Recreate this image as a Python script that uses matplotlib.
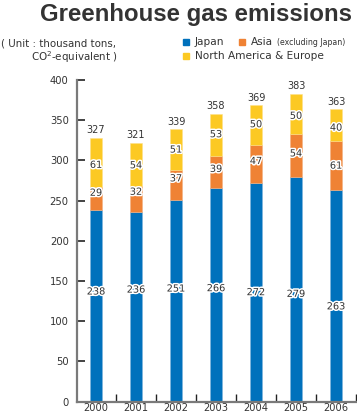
import matplotlib
matplotlib.use("Agg")
import matplotlib.pyplot as plt
import matplotlib.patheffects as pe
from matplotlib.patches import Rectangle
import numpy as np

years = ["2000", "2001", "2002", "2003", "2004", "2005", "2006"]
japan = [238, 236, 251, 266, 272, 279, 263]
asia = [29, 32, 37, 39, 47, 54, 61]
na_eu = [61, 54, 51, 53, 50, 50, 40]
totals = [327, 321, 339, 358, 369, 383, 363]
yticks = [0, 50, 100, 150, 200, 250, 300, 350, 400]

C_JP = "#0071bc"
C_AS = "#ef8234"
C_NA = "#fcc923"
TXT = "#333333"
AX = "#7a7a7a"

# label placement fractions within segments (style)
jp_frac = [0.575, 0.59, 0.56, 0.53, 0.50, 0.48, 0.45]
as_frac = [0.75, 0.78, 0.72, 0.6, 0.58, 0.55, 0.5]
na_frac = [0.45, 0.48, 0.5, 0.52, 0.52, 0.45, 0.42]

fig = plt.figure(figsize=(3.57, 4.18), dpi=100)
ax = fig.add_axes([77/357, 16.5/418, 279/357, 321.5/418])

x = np.arange(len(years))
w = 0.3
jp = np.array(japan); a = np.array(asia); n = np.array(na_eu)
ax.bar(x, jp, w, color=C_JP, edgecolor="#7fb4dc", linewidth=0.4)
ax.bar(x, a, w, bottom=jp, color=C_AS, edgecolor="#f3b080", linewidth=0.4)
ax.bar(x, n, w, bottom=jp + a, color=C_NA, edgecolor="#fde08a", linewidth=0.4)

stroke = [pe.withStroke(linewidth=2.2, foreground="white")]
fs = 7
for i in range(len(years)):
    ax.text(x[i], jp[i] * jp_frac[i], str(japan[i]), ha="center", va="center",
            fontsize=fs, color=TXT, path_effects=stroke)
    ax.text(x[i], jp[i] + a[i] * as_frac[i], str(asia[i]), ha="center", va="center",
            fontsize=fs, color=TXT, path_effects=stroke)
    ax.text(x[i], jp[i] + a[i] + n[i] * na_frac[i], str(na_eu[i]), ha="center", va="center",
            fontsize=fs, color=TXT, path_effects=stroke)
    ax.text(x[i], jp[i] + a[i] + n[i] + 3, str(totals[i]), ha="center", va="bottom",
            fontsize=fs, color=TXT)

ax.set_xlim(-0.475, 6.5)
ax.set_ylim(0, 400)
for s in ["top", "right"]:
    ax.spines[s].set_visible(False)
for s in ["left", "bottom"]:
    ax.spines[s].set_color(AX)
    ax.spines[s].set_linewidth(1.6)

ax.set_yticks(yticks)
ax.set_yticklabels([str(v) for v in yticks])
ax.tick_params(axis="y", direction="in", length=6, width=1.2, color="#222222",
               labelsize=7.2, labelcolor=TXT, pad=6)
ax.set_xticks(x + 0.5)
ax.set_xticklabels([])
ax.tick_params(axis="x", direction="in", length=6, width=1.0, color="#222222")
for i, yr in enumerate(years):
    ax.text(x[i], -7.5, yr, ha="center", va="center", fontsize=7.1, color=TXT)

# Title
fig.text(352/357, 1 - 14/418, "Greenhouse gas emissions", ha="right", va="center",
         fontsize=17.3, fontweight="bold", color=TXT, family="Liberation Sans")
# Unit note
fig.text(1/357, 1 - 43/418, "( Unit : thousand tons,", ha="left", va="center",
         fontsize=7.4, color=TXT)
fig.text(117/357, 1 - 57/418, "CO$^{2}$-equivalent )", ha="right", va="center",
         fontsize=7.4, color=TXT)

# Legend
def sq(px, py, c):
    fig.patches.append(Rectangle((px/357, 1 - (py + 3)/418), 6/357, 6/418,
                                 transform=fig.transFigure, color=c))
sq(183, 42, C_JP)
fig.text(195/357, 1 - 42/418, "Japan", ha="left", va="center", fontsize=7.6, color=TXT)
sq(239, 42, C_AS)
fig.text(251/357, 1 - 42/418, "Asia", ha="left", va="center", fontsize=7.6, color=TXT)
fig.text(277/357, 1 - 42.5/418, "(excluding Japan)", ha="left", va="center", fontsize=5.6, color=TXT)
sq(183, 56, C_NA)
fig.text(195/357, 1 - 56/418, "North America & Europe", ha="left", va="center", fontsize=7.6, color=TXT)

fig.savefig("out.png", dpi=100)
